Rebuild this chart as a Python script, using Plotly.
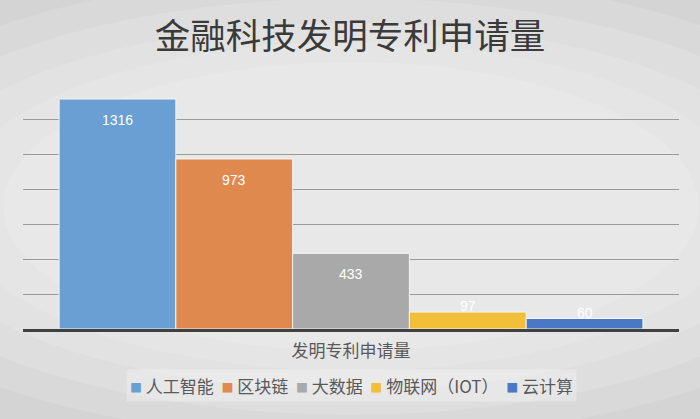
import plotly.graph_objects as go

# data
categories = ['发明专利申请量']
series_names = ['人工智能', '区块链', '大数据', '物联网（IOT）', '云计算']
series_values = [1316, 973, 433, 97, 60]
series_colors = ['#6a9fd4', '#e0894f', '#a9a9a9', '#f2bf38', '#4a78c4']

font_family = 'Noto Sans CJK SC, Noto Sans, sans-serif'
bargap = 0.11

fig = go.Figure()
for name, val, col in zip(series_names, series_values, series_colors):
    fig.add_trace(go.Bar(
        x=categories, y=[val], name=name,
        marker=dict(color=col, line=dict(color='#f4f4f4', width=1)),
        hovertemplate=name + ': %{y}<extra></extra>',
    ))

# value labels (Excel "inside end" style), centred on each grouped bar
n = len(series_values)
w = (1 - bargap) / n
annotations = []
for i, val in enumerate(series_values):
    xc = -0.5 + bargap / 2 + w * (i + 0.5)
    big = val > 200
    annotations.append(dict(
        x=xc, y=val, xref='x', yref='y', text=str(val), showarrow=False,
        yanchor='middle' if big else 'bottom', yshift=-21 if big else -4,
        font=dict(color='white', size=14, family='Liberation Sans, Arial')))

# legend as a single line of text, like the Excel legend
legend_text = '  '.join(
    "<span style='color:%s;font-size:12px'>■</span> %s" % (c, nm)
    for nm, c in zip(series_names, series_colors))
annotations.append(dict(
    x=0.5, y=-0.229, xref='paper', yref='paper', text=legend_text,
    showarrow=False, xanchor='center', yanchor='middle',
    bgcolor='rgba(255,255,255,0.28)', borderpad=3,
    font=dict(family=font_family, size=17, color='#595959')))

# soft radial-ish background
shapes = []
for dx, dy in [(0.0, 0.0), (0.08, 0.1), (0.16, 0.2), (0.24, 0.28), (0.32, 0.36)]:
    shapes.append(dict(type='circle', xref='paper', yref='paper',
                       x0=-0.35 + dx, x1=1.35 - dx, y0=-0.45 + dy, y1=1.45 - dy,
                       fillcolor='white', opacity=0.13, line=dict(width=0),
                       layer='below'))

fig.update_layout(
    width=700, height=419,
    paper_bgcolor='#d4d4d4',
    plot_bgcolor='rgba(0,0,0,0)',
    barmode='group',
    bargap=bargap,
    bargroupgap=0,
    shapes=shapes,
    annotations=annotations,
    title=dict(text='金融科技发明专利申请量', x=0.5, xanchor='center',
               y=0.912, yanchor='middle',
               font=dict(family=font_family, size=35.5, color='#3a3a3a')),
    font=dict(family=font_family, color='#595959'),
    margin=dict(l=23, r=21, t=84, b=90),
    xaxis=dict(showgrid=False, showline=True, linecolor='#404040', linewidth=2.5,
               ticks='', ticklabelstandoff=5,
               tickfont=dict(size=17, color='#595959')),
    yaxis=dict(range=[0, 1402], dtick=200, showticklabels=False,
               showgrid=True, gridcolor='#9a9a9a', gridwidth=1,
               zeroline=False, showline=False),
    showlegend=False,
)

fig.write_html('out.html', config={'displayModeBar': False},
               post_script="document.body.style.margin='0';")
